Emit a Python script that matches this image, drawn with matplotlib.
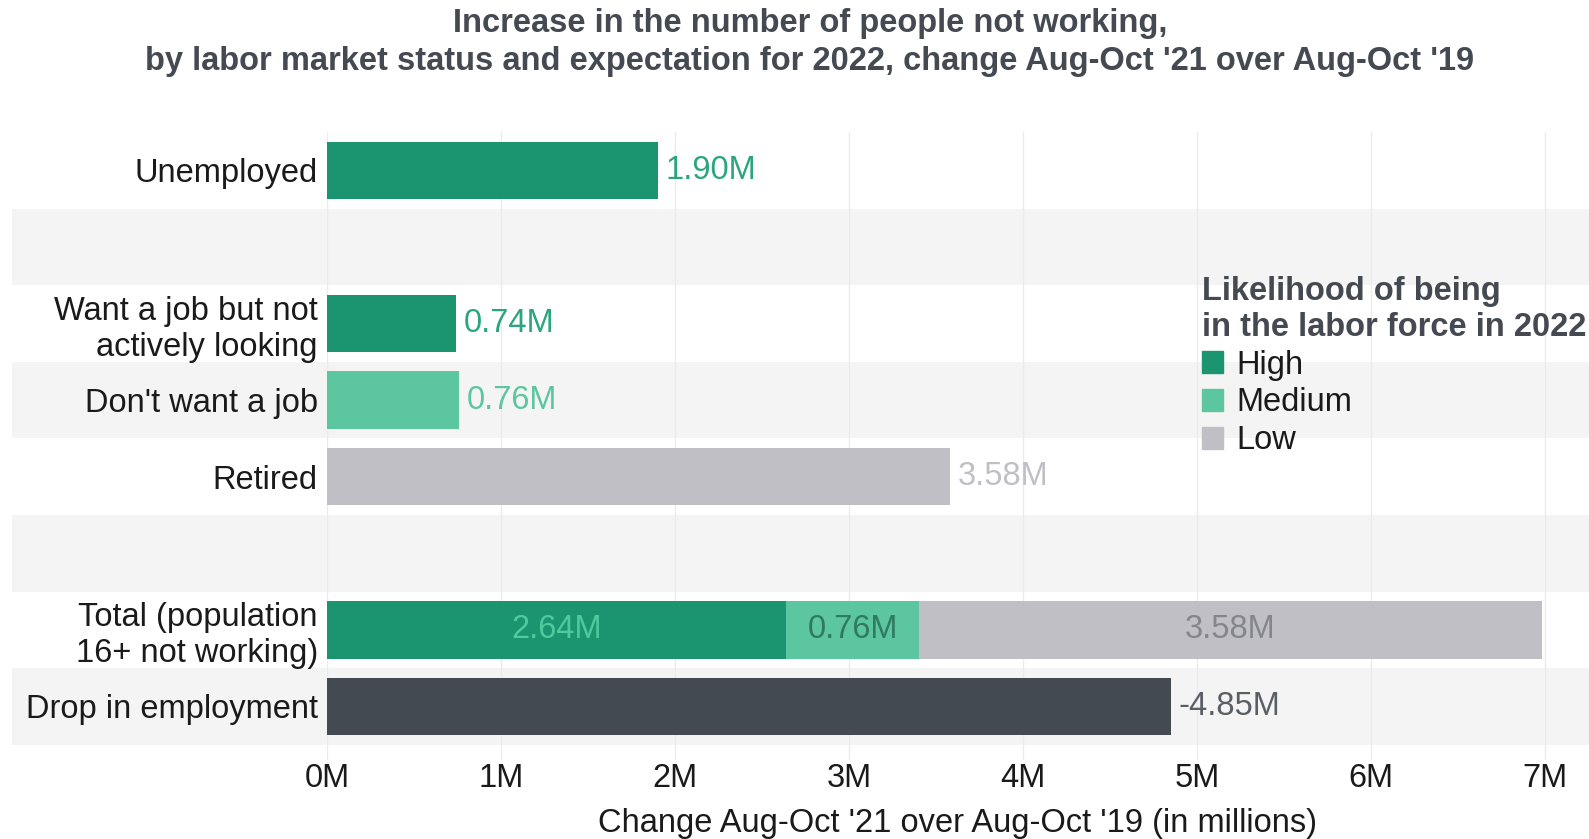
import matplotlib
matplotlib.use("Agg")
import matplotlib.pyplot as plt
from matplotlib.patches import Patch

plt.rcParams['font.family'] = ['Liberation Sans', 'DejaVu Sans']

# rows from top to bottom (blank strings are spacer rows)
categories = ["Unemployed", "", "Want a job but not\nactively looking", "Don't want a job",
              "Retired", "", "Total (population\n16+ not working)", "Drop in employment"]

# single-bar rows: (row index, value, level)
single_rows = [0, 2, 3, 4, 7]
single_values = [1.90, 0.74, 0.76, 3.58, 4.85]
single_levels = ["High", "High", "Medium", "Low", "Drop"]

# stacked total row
total_row = 6
total_levels = ["High", "Medium", "Low"]
total_values = [2.64, 0.76, 3.58]

xticks = [0, 1, 2, 3, 4, 5, 6, 7]
xticklabels = ["0M", "1M", "2M", "3M", "4M", "5M", "6M", "7M"]

colors = {"High": "#1b9470", "Medium": "#5bc69f", "Low": "#c0bfc5", "Drop": "#434a52"}
label_colors = {"High": "#2aa57f", "Medium": "#5bc69f", "Low": "#c0bfc5", "Drop": "#5a5f66"}
inside_colors = {"High": "#4ccb9e", "Medium": "#2f7a62", "Low": "#85868c"}

FS = 23.5
W, H = 1589, 839
x0, x1 = 327, 1589      # plot area in pixels
y0, y1 = 132, 760
px_per_m = (1545 - 327) / 7

fig = plt.figure(figsize=(15.89, 8.39), dpi=100)
ax = fig.add_axes([x0 / W, 1 - y1 / H, (x1 - x0) / W, (y1 - y0) / H])

# alternating row bands, extending into the label area
for i in range(len(categories)):
    if i % 2 == 1:
        band = ax.axhspan(i - 0.5, i + 0.5, xmin=(12 - x0) / (x1 - x0), xmax=1,
                          color="#f4f4f4", zorder=0, lw=0)
        band.set_clip_on(False)

for x in xticks:
    ax.axvline(x, color="#ebebeb", lw=1, zorder=1)

bar_h = 0.75
for row, val, lvl in zip(single_rows, single_values, single_levels):
    ax.barh(row, val, height=bar_h, color=colors[lvl], zorder=2)
    txt = f"-{val:.2f}M" if lvl == "Drop" else f"{val:.2f}M"
    ax.text(val + 0.045, row, txt, va="center", ha="left", fontsize=FS,
            color=label_colors[lvl], zorder=3)

left = 0
for lvl, val in zip(total_levels, total_values):
    ax.barh(total_row, val, left=left, height=bar_h, color=colors[lvl], zorder=2)
    ax.text(left + val / 2, total_row, f"{val:.2f}M", va="center", ha="center",
            fontsize=FS, color=inside_colors[lvl], zorder=3)
    left += val

ax.set_xlim(0, (x1 - x0) / px_per_m)
ax.set_ylim(7.7, -0.5)
ax.set_yticks(range(len(categories)))
ax.set_yticklabels(categories, fontsize=FS, color="#1a1a1a", linespacing=1.2)
ax.set_xticks(xticks)
ax.set_xticklabels(xticklabels, fontsize=FS, color="#1a1a1a")
ax.tick_params(axis="both", length=0)
ax.tick_params(axis="y", pad=6.5)
ax.tick_params(axis="x", pad=2)
for s in ax.spines.values():
    s.set_visible(False)
ax.set_facecolor("none")

ax.set_xlabel("Change Aug-Oct '21 over Aug-Oct '19 (in millions)", fontsize=FS,
              color="#1a1a1a", labelpad=10)

fig.suptitle("Increase in the number of people not working,\n"
             "by labor market status and expectation for 2022, change Aug-Oct '21 over Aug-Oct '19",
             fontsize=FS, fontweight="bold", color="#454a52", x=810 / W,
             y=0.991, linespacing=1.3)

handles = [Patch(color=colors[k]) for k in ["High", "Medium", "Low"]]
leg = ax.legend(handles, ["High", "Medium", "Low"],
                title="Likelihood of being\nin the labor force in 2022",
                loc="upper left", bbox_to_anchor=(1179 / W, 1 - 253 / H),
                bbox_transform=fig.transFigure, frameon=False, fontsize=FS,
                title_fontproperties={"size": FS, "weight": "bold"},
                alignment="left", handlelength=0.65, handleheight=0.65,
                handletextpad=0.4, labelspacing=0.21, borderpad=0.2)
leg.get_title().set_color("#454a52")
for t in leg.get_texts():
    t.set_color("#1a1a1a")

fig.savefig("out.png", dpi=100)
